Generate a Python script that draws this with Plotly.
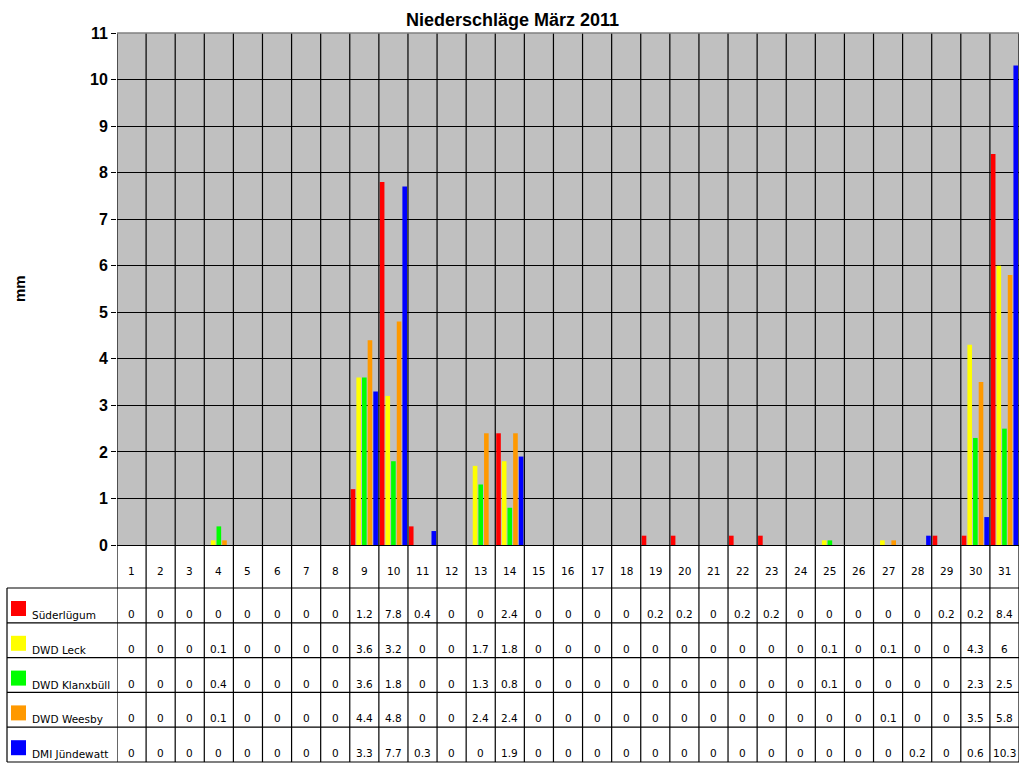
import plotly.graph_objects as go

# Tage im März 2011
tage = list(range(1, 32))

# Niederschlag in mm pro Station
suederluegum = [0, 0, 0, 0, 0, 0, 0, 0, 1.2, 7.8, 0.4, 0, 0, 2.4, 0, 0, 0, 0, 0.2, 0.2,
                0, 0.2, 0.2, 0, 0, 0, 0, 0, 0.2, 0.2, 8.4]
dwd_leck = [0, 0, 0, 0.1, 0, 0, 0, 0, 3.6, 3.2, 0, 0, 1.7, 1.8, 0, 0, 0, 0, 0, 0,
            0, 0, 0, 0, 0.1, 0, 0.1, 0, 0, 4.3, 6]
dwd_klanxbuell = [0, 0, 0, 0.4, 0, 0, 0, 0, 3.6, 1.8, 0, 0, 1.3, 0.8, 0, 0, 0, 0, 0, 0,
                  0, 0, 0, 0, 0.1, 0, 0, 0, 0, 2.3, 2.5]
dwd_weesby = [0, 0, 0, 0.1, 0, 0, 0, 0, 4.4, 4.8, 0, 0, 2.4, 2.4, 0, 0, 0, 0, 0, 0,
              0, 0, 0, 0, 0, 0, 0.1, 0, 0, 3.5, 5.8]
dmi_juendewatt = [0, 0, 0, 0, 0, 0, 0, 0, 3.3, 7.7, 0.3, 0, 0, 1.9, 0, 0, 0, 0, 0, 0,
                  0, 0, 0, 0, 0, 0, 0, 0.2, 0, 0.6, 10.3]

stationen = ["Süderlügum", "DWD Leck", "DWD Klanxbüll", "DWD Weesby", "DMI Jündewatt"]
werte = [suederluegum, dwd_leck, dwd_klanxbuell, dwd_weesby, dmi_juendewatt]
farben = ["#FF0000", "#FFFF00", "#00FF00", "#FF9900", "#0000FF"]

y_ticks = list(range(0, 12))

# Pixel -> Papierkoordinaten
W, H = 1024, 768


def px(x):
    return x / W


def py(y):
    return 1 - y / H


links, rechts = 117, 1019
oben, unten = 33, 545
tab_oben, zeile_h = 588, 34.8
tab_links = 7

fig = go.Figure()

for name, daten, farbe in zip(stationen, werte, farben):
    fig.add_trace(
        go.Bar(
            x=tage,
            y=daten,
            name=name,
            marker=dict(color=farbe, line=dict(width=0)),
            showlegend=False
        )
    )

shapes = []
annotations = []
n = len(stationen)
tab_unten = tab_oben + n * zeile_h

# senkrechte Linien durch Diagramm und Tabelle
for d in range(0, 32):
    shapes.append(dict(
        type="line", xref="x", yref="paper",
        x0=d + 0.5, x1=d + 0.5,
        y0=py(tab_unten), y1=py(oben),
        line=dict(color="black", width=1.2), layer="above"
    ))

# obere Kante des Diagramms
shapes.append(dict(
    type="line", xref="paper", yref="paper",
    x0=px(links), x1=px(rechts), y0=py(oben), y1=py(oben),
    line=dict(color="#808080", width=1.5)
))

# Tabellenlinien
for i in range(n + 1):
    y = tab_oben + i * zeile_h
    shapes.append(dict(
        type="line", xref="paper", yref="paper",
        x0=px(tab_links), x1=px(rechts), y0=py(y), y1=py(y),
        line=dict(color="black", width=1.2)
    ))
shapes.append(dict(
    type="line", xref="paper", yref="paper",
    x0=px(tab_links), x1=px(tab_links),
    y0=py(tab_oben), y1=py(tab_unten),
    line=dict(color="black", width=1.2)
))

tabfont = dict(family="DejaVu Sans", size=10.5, color="black")

# Kopfzeile mit Tagen
for d in tage:
    annotations.append(dict(
        x=d, y=py(571), xref="x", yref="paper",
        text=str(d), showarrow=False, yanchor="middle", font=tabfont
    ))

# Zeilen mit Werten
for i, (name, daten, farbe) in enumerate(zip(stationen, werte, farben)):
    top = tab_oben + i * zeile_h
    shapes.append(dict(
        type="rect", xref="paper", yref="paper",
        x0=px(11), x1=px(26), y0=py(top + 13), y1=py(top + 28),
        fillcolor=farbe, line=dict(width=0)
    ))
    annotations.append(dict(
        x=px(30), y=py(top + 27), xref="paper", yref="paper",
        text=name, showarrow=False, xanchor="left", yanchor="middle",
        font=tabfont
    ))
    for d, v in zip(tage, daten):
        annotations.append(dict(
            x=d, y=py(top + 26), xref="x", yref="paper",
            text=f"{v:g}", showarrow=False, yanchor="middle",
            font=tabfont
        ))

# Titel und Achsentitel
annotations.append(dict(
    x=px(512), y=py(20), xref="paper", yref="paper",
    text="<b>Niederschläge März 2011</b>", showarrow=False,
    xanchor="center", yanchor="middle",
    font=dict(family="Liberation Sans", size=18, color="black")
))
annotations.append(dict(
    x=px(20), y=py(289), xref="paper", yref="paper",
    text="<b>mm</b>", showarrow=False, textangle=-90,
    xanchor="center", yanchor="middle",
    font=dict(family="Liberation Sans", size=15, color="black")
))

fig.update_layout(
    width=W,
    height=H,
    margin=dict(l=0, r=0, t=0, b=0, pad=0, autoexpand=False),
    paper_bgcolor="white",
    plot_bgcolor="#C0C0C0",
    barmode="group",
    bargap=0.03,
    bargroupgap=0.18,
    shapes=shapes,
    annotations=annotations,
    xaxis=dict(
        domain=[px(links), px(rechts)],
        range=[0.5, 31.5],
        showticklabels=False,
        showgrid=False,
        zeroline=False,
        ticks="",
        automargin=False
    ),
    yaxis=dict(
        domain=[py(unten), py(oben)],
        range=[0, 11],
        tickvals=y_ticks,
        ticks="outside",
        ticklen=5,
        tickcolor="black",
        showgrid=True,
        gridcolor="black",
        gridwidth=1.2,
        zeroline=True,
        zerolinecolor="black",
        zerolinewidth=1.2,
        automargin=False,
        tickfont=dict(family="Liberation Sans", size=16, color="black", weight="bold")
    )
)

fig.write_html(
    "out.html",
    config={"displayModeBar": False},
    post_script="document.body.style.margin='0';"
)
